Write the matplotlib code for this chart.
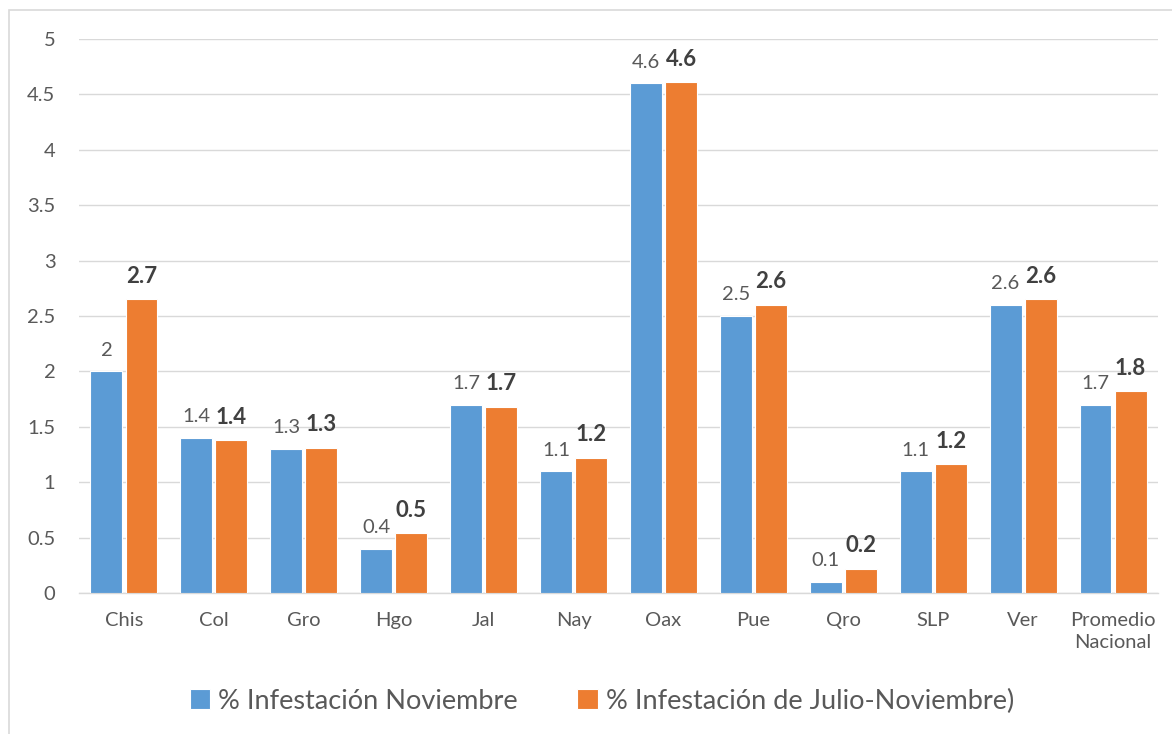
import numpy as np
import matplotlib.pyplot as plt
from matplotlib.patches import Rectangle

# data
estados = ['Chis', 'Col', 'Gro', 'Hgo', 'Jal', 'Nay', 'Oax', 'Pue', 'Qro', 'SLP', 'Ver', 'Promedio\nNacional']
noviembre = [2.0, 1.4, 1.3, 0.4, 1.7, 1.1, 4.6, 2.5, 0.1, 1.1, 2.6, 1.7]
julio_nov = [2.65, 1.38, 1.31, 0.54, 1.68, 1.22, 4.61, 2.6, 0.22, 1.16, 2.65, 1.82]
etiq_nov = ['2', '1.4', '1.3', '0.4', '1.7', '1.1', '4.6', '2.5', '0.1', '1.1', '2.6', '1.7']
etiq_jul = ['2.7', '1.4', '1.3', '0.5', '1.7', '1.2', '4.6', '2.6', '0.2', '1.2', '2.6', '1.8']

azul = '#5B9BD5'
naranja = '#ED7D31'
gris = '#595959'

plt.rcParams['font.family'] = ['Lato', 'DejaVu Sans']

fig = plt.figure(figsize=(11.72, 7.34), dpi=100)
W, H = 1172, 734
ax = fig.add_axes([79 / W, 1 - 593 / H, (1158 - 79) / W, (593 - 39) / H])

# frame around chart area
fig.patches.append(Rectangle((9 / W, -0.1), 1.2, 1 - 10 / H + 0.1, transform=fig.transFigure,
                             fill=False, edgecolor='#D9D9D9', linewidth=1.2))

x = np.arange(len(estados))
w = 0.355
g = 0.018
b1 = ax.bar(x - w / 2 - g, noviembre, w, color=azul, edgecolor='white', linewidth=0.8, zorder=3,
            label='% Infestación Noviembre')
b2 = ax.bar(x + w / 2 + g, julio_nov, w, color=naranja, edgecolor='white', linewidth=0.8, zorder=3,
            label='% Infestación de Julio-Noviembre)')

for r, t in zip(b1, etiq_nov):
    ax.annotate(t, (r.get_x() + r.get_width() / 2, r.get_height()), xytext=(0, 9),
                textcoords='offset points', ha='center', va='bottom', fontsize=14.5, color=gris)
for r, t in zip(b2, etiq_jul):
    ax.annotate(t, (r.get_x() + r.get_width() / 2, r.get_height()), xytext=(0, 9),
                textcoords='offset points', ha='center', va='bottom', fontsize=16,
                color='#404040', fontweight='bold')

ax.set_xlim(-0.5, len(estados) - 0.5)
ax.set_ylim(0, 5)
ax.set_yticks(np.arange(0, 5.01, 0.5))
ax.set_yticklabels(['0', '0.5', '1', '1.5', '2', '2.5', '3', '3.5', '4', '4.5', '5'])
ax.set_xticks(x)
ax.set_xticklabels(estados, linespacing=1.3)
ax.tick_params(axis='both', length=0, labelsize=14.5, colors=gris)
ax.tick_params(axis='x', pad=14)
ax.tick_params(axis='y', pad=17)
for lbl in ax.get_yticklabels():
    lbl.set_horizontalalignment('right')
ax.grid(axis='y', color='#D9D9D9', linewidth=1, zorder=0)
for s in ['top', 'right', 'left']:
    ax.spines[s].set_visible(False)
ax.spines['bottom'].set_color('#D9D9D9')
ax.spines['bottom'].set_linewidth(1)

fig.legend(handles=[b1, b2], loc='center', bbox_to_anchor=(602 / W, 1 - 701 / H), ncol=2,
           frameon=False, fontsize=19.5, handlelength=0.75, handleheight=0.75,
           handletextpad=0.3, columnspacing=2.2, labelcolor=gris)

fig.savefig('out.png', dpi=100)
